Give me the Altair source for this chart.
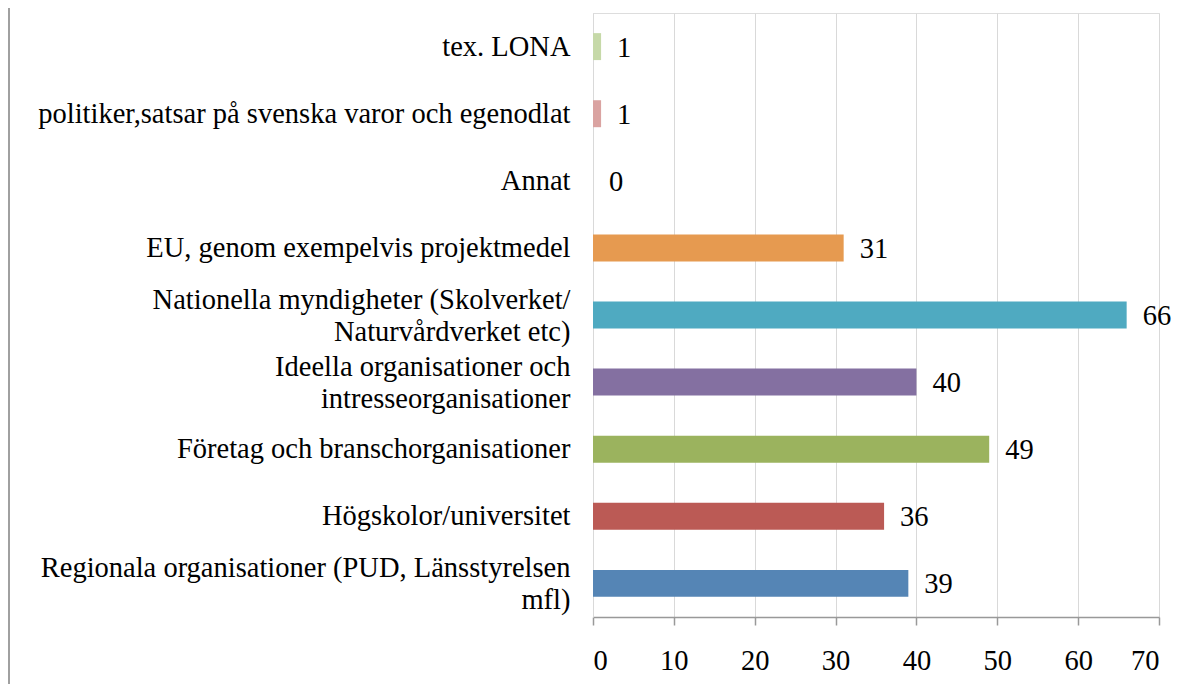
import altair as alt
import pandas as pd

categories = [
    "tex. LONA",
    "politiker,satsar på svenska varor och egenodlat",
    "Annat",
    "EU, genom exempelvis projektmedel",
    "Nationella myndigheter (Skolverket/\nNaturvårdverket etc)",
    "Ideella organisationer och\nintresseorganisationer",
    "Företag och branschorganisationer",
    "Högskolor/universitet",
    "Regionala organisationer (PUD, Länsstyrelsen\nmfl)",
]
values = [1, 1, 0, 31, 66, 40, 49, 36, 39]
colors = ["#c6d9a8", "#daa3a1", "#ffffff", "#e69a50", "#4faac1",
          "#8470a1", "#9bb35e", "#bb5a55", "#5585b5"]
x_ticks = [0, 10, 20, 30, 40, 50, 60, 70]

df = pd.DataFrame({"cat": categories, "val": values})

FONT = "Liberation Serif"
FS = 28.5

y_enc = alt.Y(
    "cat:N",
    sort=categories,
    scale=alt.Scale(paddingInner=0.598, paddingOuter=0.3),
    axis=alt.Axis(
        title=None,
        ticks=False,
        grid=False,
        domainColor="#d9d9d9",
        domainWidth=1,
        labelFont=FONT,
        labelFontSize=FS,
        labelColor="#000000",
        labelPadding=23,
        labelLimit=700,
        labelLineHeight=32,
        labelExpr="split(datum.label, '\\n')",
        labelOffset={"condition": {"test": "indexof(datum.value, '\\n') >= 0", "value": -15}, "value": 0},
    ),
)

x_enc = alt.X(
    "val:Q",
    scale=alt.Scale(domain=[0, 70], nice=False),
    axis=alt.Axis(
        title=None,
        values=x_ticks,
        grid=True,
        gridColor="#d9d9d9",
        gridWidth=1,
        domainColor="#999999",
        domainWidth=1.5,
        tickColor="#999999",
        tickWidth=1.5,
        tickSize=8,
        labelFont=FONT,
        labelFontSize=FS,
        labelColor="#000000",
        labelPadding=21,
    ),
)

bars = alt.Chart(df).mark_bar().encode(
    y=y_enc,
    x=x_enc,
    color=alt.Color("cat:N", scale=alt.Scale(domain=categories, range=colors), legend=None),
)

texts = alt.Chart(df).mark_text(
    align="left", baseline="middle", dx=16, dy=1, font=FONT, fontSize=FS, color="#000000"
).encode(
    y=alt.Y("cat:N", sort=categories),
    x=alt.X("val:Q"),
    text=alt.Text("val:Q"),
)

border = alt.Chart(pd.DataFrame({"a": [0]})).mark_rule(
    color="#a0a0a0", strokeWidth=2
).encode(
    x=alt.value(-584),
    y=alt.value(-13),
    y2=alt.value(679),
)

chart = alt.layer(bars, texts, border).properties(
    width=566,
    height=604,
    padding={"left": 585, "top": 5, "right": 21, "bottom": 67},
    autosize=alt.AutoSizeParams(type="none"),
).configure_view(stroke=None).configure(background="#ffffff")

chart.save("out.html", embed_options={"renderer": "svg", "actions": False})
